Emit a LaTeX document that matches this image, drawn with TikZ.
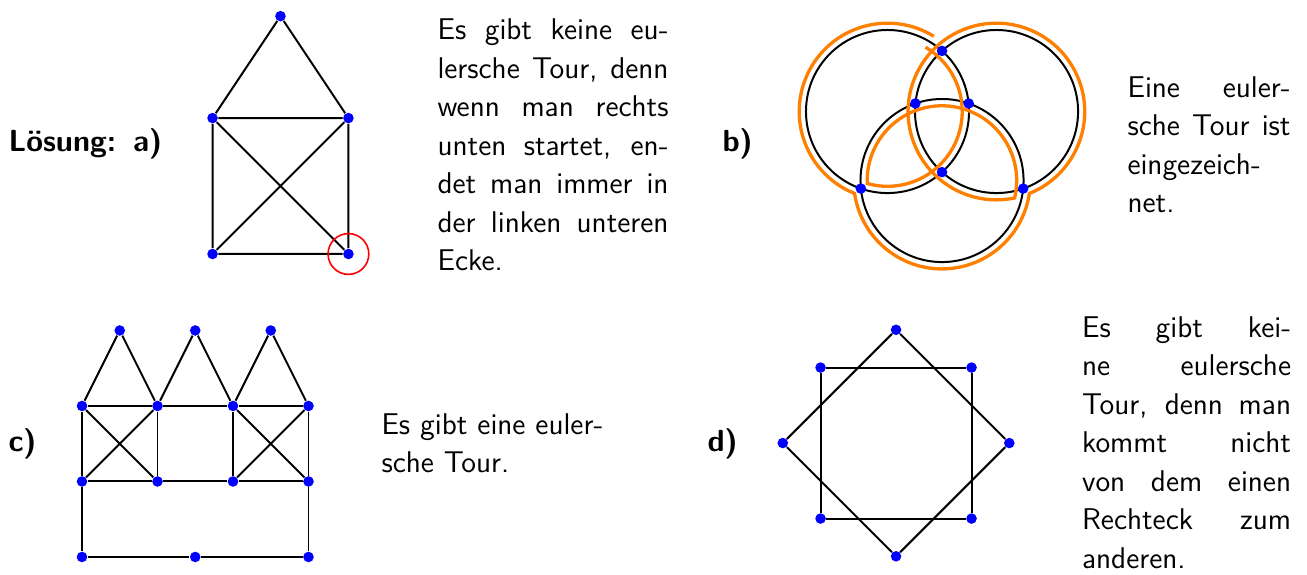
\documentclass[tikz,border=0pt]{standalone}
\usepackage{fontspec}
\usepackage{tikz}
\usetikzlibrary{calc, positioning}

\tikzset{
  punkt/.style={circle, fill=blue, inner sep=0pt, minimum size=0.14cm},
  kante/.style={line width=0.75pt},
  tour/.style={orange, line width=1.25pt},
  marke/.style={anchor=base west, inner sep=0pt, font=\sffamily\bfseries\fontsize{11.5}{14.5}\selectfont},
  erkl/.style={anchor=north west, inner sep=0pt, text width=#1, align=justify,
    execute at begin node={\parindent=0pt\tolerance=10000\hyphenpenalty=10000}}
}

\begin{document}
\begin{tikzpicture}[font=\sffamily\fontsize{11.3}{14.5}\selectfont]
    \useasboundingbox (0,0) rectangle (17.311,-7.603);

    % a) Haus mit Dach
    \node[marke] (la) at (0.106,-2.013) {Lösung:\hspace{0.55em}a)};
    \begin{scope}[shift={(2.815,-3.364)}]
        \node[punkt] (a1) at (0,0) {};
        \node[punkt] (a2) at (1.8,0) {};
        \node[punkt] (a3) at (1.8,1.8) {};
        \node[punkt] (a4) at (0,1.8) {};
        \node[punkt] (a5) at (0.9,3.15) {};
        \draw[kante] (a1) -- (a2) -- (a3) -- (a4) -- (a1) -- (a3) -- (a5) -- (a4) -- (a2);
        % Startecke markiert
        \draw[red, line width=0.6pt] (a2) circle (0.27);
    \end{scope}
    \node[erkl=3.06cm] (ta) at (5.788,-0.245)
        {Es gibt keine eu-\linebreak lersche Tour, denn\linebreak wenn man rechts\linebreak
         unten startet, en-\linebreak det man immer in\linebreak der linken unteren\linebreak Ecke.};

    % b) drei Kreise mit eulerscher Tour
    \node[marke] (lb) at (9.563,-2.013) {b)};
    \begin{scope}[shift={(12.477,-2.391)}]
        \coordinate (ML) at (-0.722,0.914);
        \coordinate (MR) at (0.722,0.914);
        \coordinate (MU) at (0,0);
        \draw[kante] (ML) circle (1.08) (MR) circle (1.08) (MU) circle (1.08);
        % Tour, leicht versetzt neben den Kreisen
        \draw[tour] ($(ML)+(58.4:1.17)$)
            arc[start angle=58.4, end angle=248.1, radius=1.17]
            arc[start angle=188.4, end angle=351.6, radius=1.17]
            arc[start angle=291.9, end angle=641.9, radius=1.17]
            arc[start angle=-13.5, end angle=182.3, radius=0.99]
            arc[start angle=254.3, end angle=419.4, radius=0.99];
        \node[punkt] (b1) at ($(ML)+(48.04:1.08)$) {};
        \node[punkt] (b2) at ($(ML)+(-48.04:1.08)$) {};
        \node[punkt] (b3) at ($(ML)+(5.68:1.08)$) {};
        \node[punkt] (b4) at ($(ML)+(250.93:1.08)$) {};
        \node[punkt] (b5) at ($(MR)+(174.32:1.08)$) {};
        \node[punkt] (b6) at ($(MR)+(289.07:1.08)$) {};
    \end{scope}
    \node[erkl=2.16cm] (tb) at (14.927,-1.005)
        {Eine euler-\linebreak sche Tour ist\linebreak eingezeich-\linebreak net.};

    % c) drei Türme
    \node[marke] (lc) at (0.106,-5.974) {c)};
    \begin{scope}[shift={(1.086,-7.377)}]
        \node[punkt] (u0) at (0,0) {};
        \node[punkt] (u1) at (1.5,0) {};
        \node[punkt] (u2) at (3,0) {};
        \foreach \i in {0,...,3} {
            \node[punkt] (m\i) at (\i,1) {};
            \node[punkt] (o\i) at (\i,2) {};
        }
        \foreach \i in {1,2,3}
            \node[punkt] (s\i) at (\i-0.5,3) {};
        \draw[kante] (m0) -- (u0) -- (u1) -- (u2) -- (m3);
        \draw[kante] (m0) -- (m1) -- (m2) -- (m3);
        \draw[kante] (o0) -- (o1) -- (o2) -- (o3);
        \foreach \i in {0,...,3}
            \draw[kante] (m\i) -- (o\i);
        \draw[kante] (m0) -- (o1) (o0) -- (m1) (m2) -- (o3) (o2) -- (m3);
        \draw[kante] (o0) -- (s1) -- (o1) -- (s2) -- (o2) -- (s3) -- (o3);
    \end{scope}
    \node[erkl=3.39cm, align=left] (tc) at (5.046,-5.470)
        {Es gibt eine euler-\\ sche Tour.};

    % d) zwei Quadrate
    \node[marke] (ld) at (9.364,-5.974) {d)};
    \begin{scope}[shift={(11.868,-5.868)}]
        \node[punkt] (q1) at (1,1) {};
        \node[punkt] (q2) at (-1,1) {};
        \node[punkt] (q3) at (-1,-1) {};
        \node[punkt] (q4) at (1,-1) {};
        \node[punkt] (r1) at (0,1.5) {};
        \node[punkt] (r2) at (-1.5,0) {};
        \node[punkt] (r3) at (0,-1.5) {};
        \node[punkt] (r4) at (1.5,0) {};
        \draw[kante] (q1) -- (q2) -- (q3) -- (q4) -- (q1);
        \draw[kante] (r1) -- (r2) -- (r3) -- (r4) -- (r1);
    \end{scope}
    \node[erkl=2.768cm] (td) at (14.325,-4.186)
        {Es gibt kei-\linebreak ne eulersche\linebreak Tour, denn man\linebreak kommt nicht\linebreak
         von dem einen\linebreak Rechteck zum\linebreak anderen.};
\end{tikzpicture}
\end{document}
